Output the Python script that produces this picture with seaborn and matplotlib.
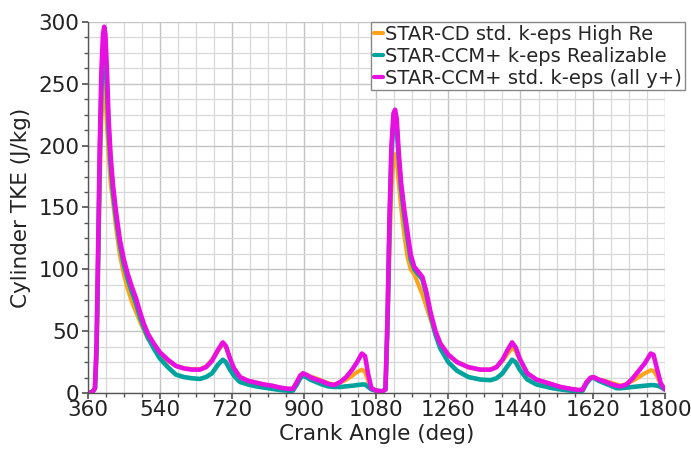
import numpy as np
import pandas as pd
import matplotlib
matplotlib.use("Agg")
import matplotlib.pyplot as plt
import seaborn as sns
from matplotlib.ticker import MultipleLocator

sns.set_theme(style="white")
plt.rcParams['font.family'] = ['DejaVu Sans']

labels = ["STAR-CD std. k-eps High Re",
          "STAR-CCM+ k-eps Realizable",
          "STAR-CCM+ std. k-eps (all y+)"]
colors = ["#FFA31A", "#00A39E", "#E810E0"]

angle = [360, 372, 378, 382, 386, 390, 394, 398, 401, 404, 408, 412, 417, 423, 430, 440,
         450, 460, 470, 480, 490, 500, 510, 525, 540, 560, 580, 600, 620, 640, 655, 670,
         685, 697, 705, 715, 725, 740, 760, 780, 800, 820, 840, 860, 872, 882, 890, 897,
         905, 915, 930, 945, 960, 975, 990, 1005, 1020, 1032, 1044, 1052, 1060, 1068, 1080,
         1095, 1103, 1108, 1113, 1118, 1123, 1127, 1131, 1136, 1142, 1150, 1158, 1166, 1175,
         1185, 1195, 1205, 1215, 1228, 1240, 1260, 1282, 1310, 1340, 1365, 1380, 1395, 1408,
         1419, 1428, 1438, 1457, 1480, 1500, 1520, 1540, 1565, 1586, 1595, 1605, 1615, 1622,
         1635, 1650, 1665, 1680, 1690, 1705, 1720, 1735, 1750, 1765, 1772, 1782, 1790, 1800]

tke_magenta = [0, 1, 4, 40, 120, 200, 260, 290, 296, 290, 260, 222, 192, 168, 148, 124,
               108, 96, 86, 77, 66, 56, 48, 40, 33, 27, 22, 20, 19, 19, 21, 26,
               35, 41, 38, 28, 20, 13, 10, 8.5, 7, 6, 4.5, 3.5, 3.5, 9, 14, 16,
               15, 13, 11, 9.5, 7.5, 6.5, 9, 13, 19, 25, 32, 30, 15, 4, 2,
               1.5, 3, 60, 140, 200, 226, 229, 222, 195, 170, 148, 130, 112, 102,
               98, 94, 82, 66, 50, 40, 31, 25, 21, 19, 19, 21, 27, 35,
               41, 37, 28, 16, 11, 9, 7, 5, 3.5, 2.5, 3, 9, 12.5, 13,
               11, 9.5, 7.5, 6, 5.5, 7, 12, 18, 24, 32, 31, 18, 8, 3]

tke_teal = [0, 1, 4, 35, 110, 190, 245, 272, 280, 272, 245, 212, 185, 162, 143, 120,
            104, 92, 82, 73, 62, 53, 45, 36, 28, 21, 15, 13, 12, 11.5, 13, 16,
            23, 27, 25, 19, 14, 9, 7, 5.5, 4.5, 3.5, 2.5, 2, 2, 7, 12, 14,
            13, 11, 9, 7, 5.5, 5, 5, 5.5, 6, 6.5, 7, 7, 5, 3, 2,
            1.5, 3, 55, 135, 195, 220, 222, 215, 190, 165, 143, 125, 108, 100,
            96, 92, 80, 64, 47, 36, 25, 18, 13, 11, 10.5, 12, 16, 22,
            27, 25, 19, 11, 7, 5.5, 4, 3, 2, 1.5, 2, 8, 12, 12.5,
            10, 8, 6, 4, 4, 4.5, 5, 5.5, 6, 6.5, 6.5, 6, 5, 3]

tke_orange = [0, 1, 4, 30, 100, 170, 220, 245, 250, 242, 215, 195, 170, 155, 135, 112,
              96, 84, 74, 66, 58, 51, 44, 38, 32, 26, 22, 20, 19.5, 19.5, 21.5, 27,
              34, 40, 37, 28, 20, 13, 10, 8.5, 7, 6, 4.5, 3.5, 3.5, 9, 14, 16,
              15, 13.5, 12, 10, 8, 7, 8.5, 11, 14, 17, 19, 17, 10, 4, 2,
              1.5, 3, 50, 115, 165, 190, 193, 188, 170, 150, 128, 110, 100, 96,
              88, 80, 70, 60, 48, 40, 31, 25, 21, 19, 19, 21, 26, 32,
              36.5, 34, 27, 16, 11, 9, 7, 5, 3.5, 2.5, 3, 9, 12.5, 13,
              11, 10, 8.5, 7, 6, 7.5, 10, 13, 16, 18.5, 18, 13, 7, 3]

series = [tke_orange, tke_teal, tke_magenta]
widths = [3.0, 3.3, 3.3]

fig = plt.figure(figsize=(6.91, 4.54), dpi=100)
ax = fig.add_axes([0.127, 0.134, 0.835, 0.818])

for vals, lab, col, lw in zip(series, labels, colors, widths):
    df = pd.DataFrame({"angle": angle, "tke": vals})
    sns.lineplot(data=df, x="angle", y="tke", ax=ax, color=col, lw=lw, label=lab,
                 solid_joinstyle="round", solid_capstyle="round")

ax.set_xlim(360, 1800)
ax.set_ylim(0, 300)
ax.xaxis.set_major_locator(MultipleLocator(180))
ax.xaxis.set_minor_locator(MultipleLocator(45))
ax.yaxis.set_major_locator(MultipleLocator(50))
ax.yaxis.set_minor_locator(MultipleLocator(12.5))
ax.grid(which="major", color="#c4c4c4", lw=1.0)
ax.grid(which="minor", color="#d8d8d8", lw=0.9)
ax.set_axisbelow(True)
for s in ["top", "right"]:
    ax.spines[s].set_visible(False)
for s in ["left", "bottom"]:
    ax.spines[s].set_color("#555555")
    ax.spines[s].set_linewidth(1.0)
ax.tick_params(which="both", direction="out", length=4, color="#555555",
               labelsize=15.5, labelcolor="#222222", pad=1, left=True, bottom=True)
ax.tick_params(which="minor", length=3)
ax.tick_params(axis="y", pad=2)

ax.set_xlabel("Crank Angle (deg)", fontsize=15.5, color="#222222", labelpad=3)
ax.set_ylabel("Cylinder TKE (J/kg)", fontsize=15.5, color="#222222", labelpad=5)

leg = ax.legend(loc="upper right", bbox_to_anchor=(0.991, 0.952),
                bbox_transform=fig.transFigure, fontsize=14, handlelength=0.45,
                handletextpad=0.1, borderpad=0.15, labelspacing=0.15, borderaxespad=0,
                frameon=True, fancybox=False, framealpha=1.0)
leg.get_frame().set_edgecolor("#888888")
leg.get_frame().set_linewidth(1.0)
for h in leg.get_lines():
    h.set_linewidth(3)

fig.savefig("out.png", dpi=100)
